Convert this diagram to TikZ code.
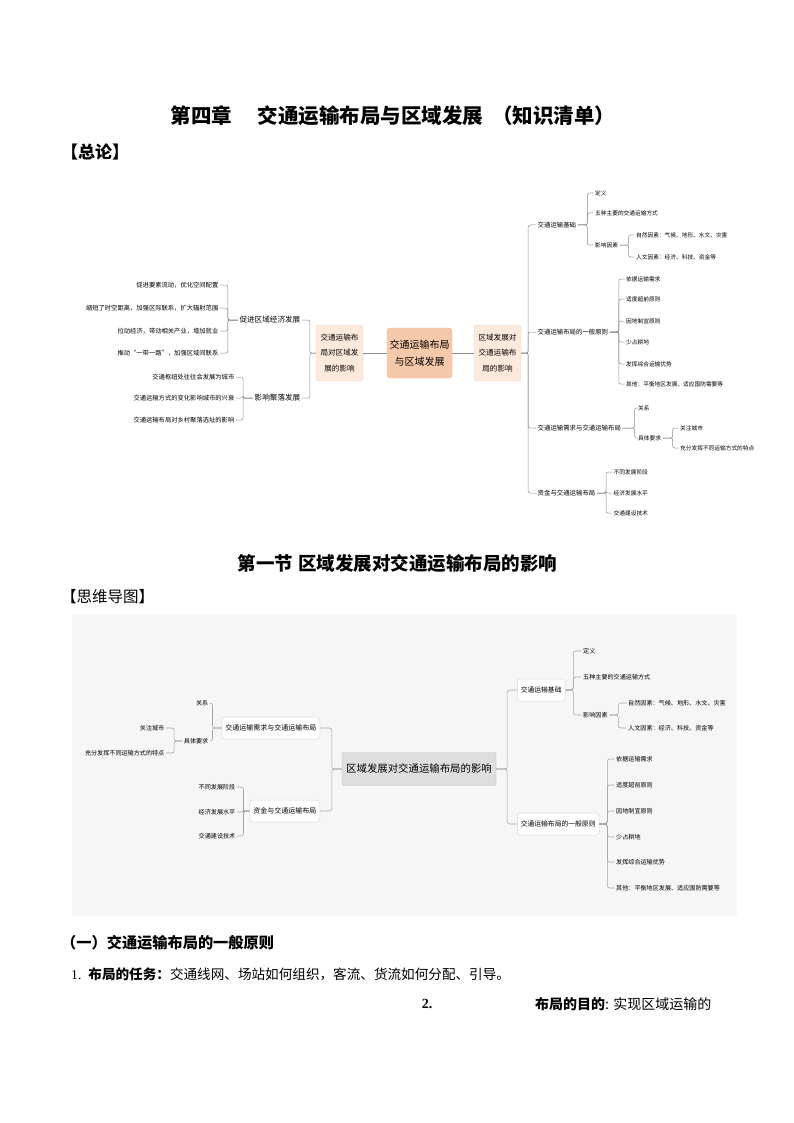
\documentclass[tikz,border=0pt]{standalone}
\usepackage{fontspec}
\setmainfont{Noto Sans CJK SC}
\newfontfamily\lat{Liberation Serif}
\definecolor{lnA}{HTML}{8E8E8E}
\definecolor{lnB}{HTML}{A4A4A4}
\definecolor{hubfill}{HTML}{F6C9AB}
\definecolor{hubdraw}{HTML}{E9B28E}
\definecolor{subfill}{HTML}{FDEADD}
\definecolor{subdraw}{HTML}{F2D3BE}
\definecolor{bgc}{HTML}{F6F6F6}
\definecolor{hubBfill}{HTML}{DEDEDE}
\definecolor{hubBdraw}{HTML}{C2C2C2}
\definecolor{boxBdraw}{HTML}{D8D8D8}
\begin{document}
\begin{tikzpicture}[x=1pt,y=-1pt,
  lnx/.style={draw=lnA,line width=0.5pt,rounded corners=2pt},
  lny/.style={draw=lnB,line width=0.55pt,rounded corners=2.5pt},
  hubA/.style={draw=hubdraw,fill=hubfill,rounded corners=3pt,align=center,
    font={\fontsize{10}{17}\selectfont},minimum width=65pt,minimum height=50pt,inner sep=1pt},
  subA/.style={draw=subdraw,fill=subfill,rounded corners=3pt,align=center,
    font={\fontsize{7.6}{15.5}\selectfont},minimum width=47pt,minimum height=56pt,inner sep=1pt},
  kL/.style={inner sep=1.5pt,font={\fontsize{7.6}{8}\selectfont}},
  kR/.style={inner sep=1.5pt,anchor=west,font={\fontsize{6.4}{7}\selectfont}},
  lfL/.style={inner sep=1.5pt,anchor=east,font={\fontsize{6.3}{7}\selectfont}},
  lfR/.style={inner sep=1.5pt,anchor=west,font={\fontsize{5.7}{6}\selectfont}},
  hubB/.style={draw=hubBdraw,fill=hubBfill,rounded corners=2pt,
    font={\fontsize{10.4}{11}\selectfont},minimum width=154pt,minimum height=33pt,inner sep=1pt},
  boxB/.style={draw=boxBdraw,fill=white,rounded corners=3pt,line width=0.5pt,
    font={\fontsize{6.8}{7}\selectfont},inner xsep=3.5pt,inner ysep=1pt,minimum height=22pt},
  lfB/.style={inner sep=1.5pt,font={\fontsize{6.1}{7}\selectfont}},
]
\useasboundingbox (0,0) rectangle (794,1123);

% ---------- titles ----------
\node[font={\fontsize{20.5}{22}\selectfont\bfseries}] (t1) at (393,116)
  {第四章\hspace{26pt}交通运输布局与区域发展\hspace{9pt}（知识清单）};
\node[anchor=west,font={\fontsize{17}{18}\selectfont\bfseries},inner sep=0pt] (t2) at (61,152) {【总论】};

% ---------- overview mind map ----------
\node[hubA] (c1) at (419.5,353) {交通运输布局\\与区域发展};
\node[subA] (L) at (339.5,353) {交通运输布\\局对区域发\\展的影响};
\node[subA] (R) at (497.5,353) {区域发展对\\交通运输布\\局的影响};
\draw[lnx] (L.east) -- (c1.west);
\draw[lnx] (c1.east) -- (R.west);

% left side
\node[kL,anchor=east] (a1) at (302,320) {促进区域经济发展};
\node[kL,anchor=east] (a2) at (302,398) {影响聚落发展};
\draw[lnx] (L.west) -- ++(-6,0) |- (a1.east);
\draw[lnx] (L.west) -- ++(-6,0) |- (a2.east);

\node[lfL] (a11) at (220,285) {促进要素流动，优化空间配置};
\node[lfL] (a12) at (220,308) {缩短了时空距离，加强区际联系，扩大辐射范围};
\node[lfL] (a13) at (220,331) {拉动经济，带动相关产业，增加就业};
\node[lfL] (a14) at (220,353) {推动“一带一路”，加强区域间联系};
\foreach \n in {a11,a12,a13,a14} \draw[lnx] (a1.west) -- ++(-10,0) |- (\n.east);

\node[lfL] (a21) at (236,377) {交通枢纽处往往会发展为城市};
\node[lfL] (a22) at (236,398) {交通运输方式的变化影响城市的兴衰};
\node[lfL] (a23) at (236,420) {交通运输布局对乡村聚落选址的影响};
\foreach \n in {a21,a22,a23} \draw[lnx] (a2.west) -- ++(-10,0) |- (\n.east);

% right side
\node[kR] (b1) at (536,225) {交通运输基础};
\node[kR] (b2) at (536,332) {交通运输布局的一般原则};
\node[kR] (b3) at (536,428) {交通运输需求与交通运输布局};
\node[kR] (b4) at (536,493) {资金与交通运输布局};
\foreach \n in {b1,b2,b3,b4} \draw[lnx] (R.east) -- ++(7,0) |- (\n.west);

\node[lfR] (b11) at (593.5,193) {定义};
\node[lfR] (b12) at (593.5,213) {五种主要的交通运输方式};
\node[lfR] (b13) at (593.5,245) {影响因素};
\foreach \n in {b11,b12,b13} \draw[lnx] (b1.east) -- ++(9.5,0) |- (\n.west);
\node[lfR] (b131) at (634.5,235) {自然因素：气候、地形、水文、灾害};
\node[lfR] (b132) at (634.5,257) {人文因素：经济、科技、资金等};
\foreach \n in {b131,b132} \draw[lnx] (b13.east) -- ++(9,0) |- (\n.west);

\node[lfR] (b21) at (624.5,279) {依据运输需求};
\node[lfR] (b22) at (624.5,299) {适度超前原则};
\node[lfR] (b23) at (624.5,321) {因地制宜原则};
\node[lfR] (b24) at (624.5,342) {少占耕地};
\node[lfR] (b25) at (624.5,364) {发挥综合运输优势};
\node[lfR] (b26) at (624.5,384) {其他：平衡地区发展、适应国防需要等};
\foreach \n in {b21,b22,b23,b24,b25,b26} \draw[lnx] (b2.east) -- ++(9,0) |- (\n.west);

\node[lfR] (b31) at (636.5,408) {关系};
\node[lfR] (b32) at (636.5,438) {具体要求};
\foreach \n in {b31,b32} \draw[lnx] (b3.east) -- ++(12,0) |- (\n.west);
\node[lfR] (b321) at (678.5,428) {关注城市};
\node[lfR] (b322) at (678.5,448) {充分发挥不同运输方式的特点};
\foreach \n in {b321,b322} \draw[lnx] (b32.east) -- ++(10,0) |- (\n.west);

\node[lfR] (b41) at (612,472) {不同发展阶段};
\node[lfR] (b42) at (612,493) {经济发展水平};
\node[lfR] (b43) at (612,513) {交通建设技术};
\foreach \n in {b41,b42,b43} \draw[lnx] (b4.east) -- ++(9,0) |- (\n.west);

% ---------- section 1 ----------
\node[font={\fontsize{18.5}{20}\selectfont\bfseries}] (t3) at (397.5,563) {第一节\hspace{5pt}区域发展对交通运输布局的影响};
\node[anchor=west,font={\fontsize{15.5}{16}\selectfont},inner sep=0pt] (t4) at (61,597) {【思维导图】};

\fill[bgc] (72,614) rectangle (737,916);

\node[hubB] (m) at (419,769) {区域发展对交通运输布局的影响};

% right
\node[boxB,anchor=west] (r1) at (517,690) {交通运输基础};
\node[boxB,anchor=west] (r2) at (517,824) {交通运输布局的一般原则};
\foreach \n in {r1,r2} \draw[lny] (m.east) -- ++(11,0) |- (\n.west);

\node[lfB,anchor=west] (r11) at (581.5,651) {定义};
\node[lfB,anchor=west] (r12) at (581.5,677) {五种主要的交通运输方式};
\node[lfB,anchor=west] (r13) at (581.5,715) {影响因素};
\foreach \n in {r11,r12,r13} \draw[lny] (r1.east) -- ++(8,0) |- (\n.west);
\node[lfB,anchor=west] (r131) at (626.5,703) {自然因素：气候、地形、水文、灾害};
\node[lfB,anchor=west] (r132) at (626.5,728) {人文因素：经济、科技、资金等};
\foreach \n in {r131,r132} \draw[lny] (r13.east) -- ++(9,0) |- (\n.west);

\node[lfB,anchor=west] (r21) at (614.5,759) {依据运输需求};
\node[lfB,anchor=west] (r22) at (614.5,785) {适度超前原则};
\node[lfB,anchor=west] (r23) at (614.5,811) {因地制宜原则};
\node[lfB,anchor=west] (r24) at (614.5,837) {少占耕地};
\node[lfB,anchor=west] (r25) at (614.5,862) {发挥综合运输优势};
\node[lfB,anchor=west] (r26) at (614.5,888) {其他：平衡地区发展、适应国防需要等};
\foreach \n in {r21,r22,r23,r24,r25,r26} \draw[lny] (r2.east) -- ++(8,0) |- (\n.west);

% left
\node[boxB,anchor=east,font={\fontsize{7}{7}\selectfont}] (l1) at (320,728) {交通运输需求与交通运输布局};
\node[boxB,anchor=east,font={\fontsize{7}{7}\selectfont}] (l2) at (320,811) {资金与交通运输布局};
\foreach \n in {l1,l2} \draw[lny] (m.west) -- ++(-10,0) |- (\n.east);

\node[lfB,anchor=east] (l11) at (210,703) {关系};
\node[lfB,anchor=east] (l12) at (210,741) {具体要求};
\foreach \n in {l11,l12} \draw[lny] (l1.west) -- ++(-9,0) |- (\n.east);
\node[lfB,anchor=east] (l121) at (166,728) {关注城市};
\node[lfB,anchor=east] (l122) at (166,753) {充分发挥不同运输方式的特点};
\foreach \n in {l121,l122} \draw[lny] (l12.west) -- ++(-8,0) |- (\n.east);

\node[lfB,anchor=east] (l21) at (237,787) {不同发展阶段};
\node[lfB,anchor=east] (l22) at (237,812) {经济发展水平};
\node[lfB,anchor=east] (l23) at (237,836) {交通建设技术};
\foreach \n in {l21,l22,l23} \draw[lny] (l2.west) -- ++(-6,0) |- (\n.east);

% ---------- body text ----------
\node[anchor=west,inner sep=0pt,font={\fontsize{15.2}{16}\selectfont\bfseries}] (h1) at (61,943) {（一）交通运输布局的一般原则};
\node[anchor=west,inner sep=0pt,font={\fontsize{13.6}{14}\selectfont}] (p1) at (71,974)
  {{\lat 1.}\hspace{7pt}\textbf{布局的任务：}交通线网、场站如何组织，客流、货流如何分配、引导。};
\node[inner sep=0pt,font={\fontsize{14}{14}\selectfont\lat\bfseries}] (p2a) at (427,1004) {2.};
\node[anchor=west,inner sep=0pt,font={\fontsize{14}{14}\selectfont}] (p2b) at (535,1004) {\textbf{布局的目的}: 实现区域运输的};
\end{tikzpicture}
\end{document}
